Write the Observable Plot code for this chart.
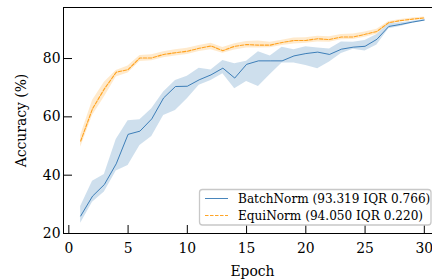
<!DOCTYPE html>
<html>
<head>
<meta charset="utf-8">
<script src="https://cdn.jsdelivr.net/npm/d3@7"></script>
<script src="https://cdn.jsdelivr.net/npm/@observablehq/plot@0.6"></script>
<style>
  html, body { margin: 0; padding: 0; background: #fff; }
  #chart { width: 432px; height: 280px; overflow: hidden; }
  #chart svg text { font-family: 'DejaVu Serif', serif !important; }
</style>
</head>
<body>
<div id="chart"></div>
<script>
// ---- data ----
const epochs = [1,2,3,4,5,6,7,8,9,10,11,12,13,14,15,16,17,18,19,20,21,22,23,24,25,26,27,28,29,30];

const bnMedian = [26.0,32.8,36.8,43.9,54.0,55.1,59.3,66.5,70.4,70.5,72.7,74.4,76.7,73.3,78.0,79.2,79.2,79.2,80.9,81.7,82.2,81.4,83.2,83.9,84.2,86.6,91.0,91.7,92.5,93.2];
const bnLow    = [23.5,30.7,34.2,41.4,43.3,50.2,53.3,60.5,62.2,66.2,70.8,72.5,74.8,69.6,72.1,70.4,74.5,78.5,78.5,77.6,76.5,78.8,81.7,83.2,82.6,84.6,90.2,91.0,92.1,92.8];
const bnHigh   = [29.3,37.9,40.2,52.2,58.7,59.0,62.8,68.5,72.5,73.9,76.7,76.1,79.3,78.2,79.1,82.3,80.9,83.9,83.0,84.0,83.6,83.3,85.7,85.6,86.2,88.2,91.9,92.3,92.8,93.4];

const enMedian = [51.7,62.8,69.6,75.3,76.2,80.2,80.2,81.4,82.0,82.5,83.5,84.3,82.7,84.2,84.8,84.6,84.6,85.5,86.2,86.2,86.8,86.5,87.4,87.4,88.3,89.3,92.3,93.0,93.5,93.9];
const enLow    = [49.6,60.5,66.8,73.7,75.0,79.0,79.2,80.3,80.9,81.4,82.4,83.0,81.8,82.9,83.6,83.6,83.7,84.5,85.0,85.2,85.7,85.6,86.4,86.5,87.3,88.3,91.8,92.6,93.1,93.6];
const enHigh   = [53.6,65.6,71.9,75.9,77.4,81.0,81.3,82.3,83.0,83.5,84.5,85.2,83.8,85.1,85.8,86.0,85.6,86.3,87.0,87.1,87.6,87.5,88.2,88.4,89.1,90.0,92.7,93.4,93.9,94.2];

const seriesNames = ["BatchNorm", "EquiNorm"];
const finalMedians = ["93.319", "94.050"];
const finalIQRs = ["0.766", "0.220"];
const seriesColors = ["#0C5DA5", "#FF9500"];

const xTicks = [0,5,10,15,20,25,30];
const yTicks = [20,40,60,80];
const xLabel = "Epoch";
const yLabel = "Accuracy (%)";

// ---- tables ----
const bn = epochs.map((e,i) => ({epoch: e, med: bnMedian[i], lo: bnLow[i], hi: bnHigh[i]}));
const en = epochs.map((e,i) => ({epoch: e, med: enMedian[i], lo: enLow[i], hi: enHigh[i]}));

const W = 432, H = 280;
const mL = 63, mR = -9, mT = 7, mB = 47;
const frameW = W - mL - mR, frameH = H - mT - mB;
const fontFamily = "'DejaVu Serif', serif";

const plot = Plot.plot({
  width: W, height: H,
  marginLeft: mL, marginRight: mR, marginTop: mT, marginBottom: mB,
  style: {fontFamily, fontSize: "13.9px", color: "#000", background: "#fff", overflow: "hidden"},
  x: {domain: [-0.45, 31.45], range: [mL, W - mR]},
  y: {domain: [20, 97.5], range: [H - mB, mT]},
  marks: [
    Plot.areaY(bn, {x: "epoch", y1: "lo", y2: "hi", fill: seriesColors[0], fillOpacity: 0.2}),
    Plot.areaY(en, {x: "epoch", y1: "lo", y2: "hi", fill: seriesColors[1], fillOpacity: 0.2}),
    Plot.lineY(bn, {x: "epoch", y: "med", stroke: seriesColors[0], strokeWidth: 1, strokeOpacity: 0.75}),
    Plot.lineY(en, {x: "epoch", y: "med", stroke: seriesColors[1], strokeWidth: 1.1, strokeOpacity: 0.85, strokeDasharray: "3.5,1.5"}),
    Plot.frame({stroke: "#000", strokeWidth: 1}),
    // inward ticks
    Plot.tickX(xTicks, {x: d => d, insetTop: frameH - 8, stroke: "#000", strokeWidth: 1}),
    Plot.tickY(yTicks, {y: d => d, insetRight: frameW - 9, stroke: "#000", strokeWidth: 1}),
    Plot.tickY(yTicks, {y: d => d, insetLeft: frameW - 9, stroke: "#000", strokeWidth: 1}),
    Plot.axisX(xTicks, {tickSize: 0, tickPadding: 10, label: null, fontSize: 13.9, fontFamily}),
    Plot.axisY(yTicks, {tickSize: 0, tickPadding: 3, label: null, fontSize: 13.9, fontFamily}),
    Plot.text([xLabel], {frameAnchor: "bottom", dy: 37.6, text: d => d, fontSize: 13.9, fontFamily, textAnchor: "middle", lineAnchor: "middle"}),
    Plot.text([yLabel], {frameAnchor: "left", dx: -42, rotate: -90, text: d => d, fontSize: 13.9, fontFamily, textAnchor: "middle", lineAnchor: "middle"})
  ]
});
plot.setAttribute("font-family", fontFamily);

document.getElementById("chart").appendChild(plot);

// ---- legend (inside plot, lower right) ----
const svg = d3.select(plot);
const lg = svg.append("g")
  .attr("font-family", fontFamily).attr("font-size", "12.1px")
  .attr("text-anchor", "start");
lg.append("rect")
  .attr("x", 199.5).attr("y", 189.5).attr("width", 231.5).attr("height", 35.5)
  .attr("rx", 3).attr("ry", 3)
  .attr("fill", "#fff").attr("fill-opacity", 0.8)
  .attr("stroke", "#c8c8c8").attr("stroke-width", 1.3);
const rowY = [198.5, 215.5];
seriesNames.forEach((name, i) => {
  const line = lg.append("line")
    .attr("x1", 205).attr("x2", 228).attr("y1", rowY[i]).attr("y2", rowY[i])
    .attr("stroke", seriesColors[i]).attr("stroke-width", i === 0 ? 1 : 1.1)
    .attr("stroke-opacity", i === 0 ? 0.75 : 0.85);
  if (i === 1) line.attr("stroke-dasharray", "3.5,1.5");
  lg.append("text")
    .attr("x", 238).attr("y", rowY[i]).attr("dy", "0.35em")
    .attr("text-anchor", "start")
    .attr("fill", "#000")
    .text(`${name} (${finalMedians[i]} IQR ${finalIQRs[i]})`);
});
</script>
</body>
</html>
